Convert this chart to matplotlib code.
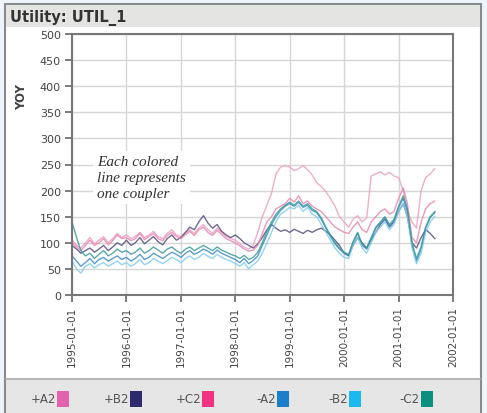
import matplotlib
matplotlib.use("Agg")
import matplotlib.pyplot as plt
from matplotlib.patches import Rectangle
import pandas as pd

# ---------------- data ----------------
dates = pd.date_range("1995-01-01", periods=81, freq="MS")

plus_A2 = [105, 95, 90, 100, 110, 98, 105, 112, 100, 108, 118, 110,
           115, 108, 112, 120, 110, 115, 122, 112, 108, 118, 125, 115,
           112, 120, 125, 118, 128, 135, 125, 118, 128, 120, 112, 108,
           105, 98, 92, 88, 95, 120, 150, 172, 195, 232, 245, 248,
           245, 238, 242, 248, 240, 230, 215, 208, 198, 185, 170, 150,
           140, 130, 145, 152, 140, 148, 228, 232, 236, 230, 235, 228,
           225, 200, 160, 140, 128, 200, 225, 232, 242]
plus_B2 = [95, 88, 80, 85, 90, 82, 88, 95, 85, 92, 100, 95,
           105, 95, 100, 110, 98, 105, 112, 102, 96, 108, 115, 105,
           110, 120, 130, 125, 140, 152, 138, 128, 135, 122, 115, 110,
           115, 108, 100, 95, 90, 98, 110, 125, 135, 128, 122, 125,
           120, 126, 122, 118, 124, 120, 125, 128, 122, 115, 105, 95,
           80, 75, 95, 110, 100, 90, 105, 120, 135, 145, 130, 140,
           160, 175, 150, 100, 90, 110, 125, 118, 108]
plus_C2 = [100, 92, 85, 95, 105, 95, 100, 108, 96, 104, 115, 108,
           110, 104, 108, 118, 106, 112, 118, 108, 104, 114, 120, 112,
           108, 116, 122, 114, 125, 130, 120, 114, 124, 116, 108, 104,
           100, 94, 88, 84, 86, 95, 118, 140, 150, 165, 170, 175,
           185, 178, 190, 175, 180, 170, 165, 160, 150, 140, 130, 125,
           120, 118, 130, 140, 125, 120, 140, 150, 160, 165, 155, 160,
           185, 205, 175, 110, 100, 140, 165, 175, 180]
minus_A2 = [75, 65, 55, 62, 70, 60, 68, 72, 65, 70, 75, 68,
            72, 65, 70, 78, 68, 72, 80, 75, 70, 76, 82, 78,
            72, 80, 85, 78, 82, 88, 84, 78, 86, 80, 76, 72,
            68, 62, 70, 60, 66, 75, 95, 115, 135, 150, 162, 170,
            175, 170, 178, 168, 172, 162, 158, 145, 128, 112, 98, 88,
            80, 76, 100, 118, 95, 88, 108, 128, 138, 148, 132, 142,
            168, 185, 160, 95, 65, 88, 128, 148, 158]
minus_B2 = [65, 50, 42, 55, 60, 52, 58, 62, 55, 60, 65, 58,
            62, 55, 60, 68, 58, 62, 70, 65, 60, 66, 72, 68,
            62, 70, 75, 68, 72, 80, 74, 70, 78, 72, 68, 65,
            60, 55, 62, 50, 58, 65, 80, 100, 120, 140, 155, 160,
            168, 165, 172, 160, 168, 155, 150, 135, 120, 105, 90, 80,
            72, 70, 95, 110, 90, 80, 100, 120, 130, 140, 125, 135,
            160, 175, 150, 90, 60, 80, 120, 140, 150]
minus_C2 = [140, 110, 85, 75, 80, 70, 78, 85, 75, 80, 88, 82,
            85, 78, 82, 90, 80, 85, 92, 86, 80, 88, 92, 85,
            80, 88, 92, 85, 90, 95, 90, 85, 92, 86, 82, 78,
            75, 70, 76, 68, 72, 82, 100, 122, 140, 155, 165, 172,
            178, 172, 180, 170, 175, 165, 160, 148, 130, 115, 100, 90,
            82, 78, 102, 120, 98, 90, 110, 130, 140, 150, 135, 145,
            170, 190, 165, 100, 70, 92, 130, 150, 160]

series_names = ["+A2", "+B2", "+C2", "-A2", "-B2", "-C2"]
series_values = [plus_A2, plus_B2, plus_C2, minus_A2, minus_B2, minus_C2]
line_colors = ["#eaa0c4", "#55507f", "#e887b0", "#3f8cc6", "#7fcdf0", "#3c9c9a"]
swatch_colors = ["#e262ae", "#2e2a6c", "#f03282", "#1a7ec8", "#1cb8f0", "#0a9080"]

y_ticks = [0, 50, 100, 150, 200, 250, 300, 350, 400, 450, 500]
x_tick_years = [1995, 1996, 1997, 1998, 1999, 2000, 2001, 2002]

# ---------------- figure ----------------
W, H = 487, 414
fig = plt.figure(figsize=(W / 100, H / 100), dpi=100)
fig.patch.set_facecolor("#eef5fb")

def px(x, y):
    return x / W, 1 - y / H

# frame
frame = Rectangle(px(5, 414), (481 - 5) / W, (414 - 5) / H, transform=fig.transFigure,
                  facecolor="white", edgecolor="#8a8a8a", lw=1.5, zorder=-2)
fig.patches.append(frame)
# title bar
tb = Rectangle(px(6, 28), (480 - 6) / W, (28 - 6) / H, transform=fig.transFigure,
               facecolor="#e4e4e2", edgecolor="none", zorder=-1)
fig.patches.append(tb)
fig.text(*px(10, 18), "Utility: UTIL_1", fontsize=10.5, fontweight="bold",
         color="#333333", va="center", ha="left")
# legend band
lb = Rectangle(px(6, 414), (480 - 6) / W, (414 - 381) / H, transform=fig.transFigure,
               facecolor="#e6e6e6", edgecolor="none", zorder=-1)
fig.patches.append(lb)
fig.add_artist(plt.Line2D([6 / W, 480 / W], [1 - 380 / H, 1 - 380 / H],
                          transform=fig.transFigure, color="#a8a8a8", lw=1.2))

ax = fig.add_axes([72 / W, 1 - 296 / H, (453 - 72) / W, (296 - 35) / H])
ax.set_zorder(5)
ax.set_facecolor("white")
for vals, c in zip(series_values, line_colors):
    ax.plot(dates, vals, color=c, lw=1.0, alpha=0.85)

ax.set_ylim(0, 500)
ax.set_yticks(y_ticks)
ax.set_yticklabels([str(v) for v in y_ticks])
xt = [pd.Timestamp(f"{y}-01-01") for y in x_tick_years]
ax.set_xlim(xt[0], xt[-1])
ax.set_xticks(xt)
ax.set_xticklabels([t.strftime("%Y-%m-%d") for t in xt], rotation=90, va="top", ha="center")
ax.grid(True, color="#d6d6d6", lw=1.0)
ax.set_axisbelow(True)
ax.tick_params(axis="both", direction="out", length=5, width=1.2, colors="#666666",
               labelcolor="#444444", labelsize=7.5, pad=3)
ax.tick_params(axis="y", labelsize=8)
for s in ax.spines.values():
    s.set_color("#777777")
    s.set_linewidth(1.5)

fig.text(*px(22, 97), "YOY", rotation=90, fontsize=8.5, fontweight="bold",
         color="#444444", va="center", ha="center")

# annotation
ax.text(0.065, 0.535, "Each colored\nline represents\none coupler", transform=ax.transAxes,
        fontsize=11, fontstyle="italic", family="Liberation Serif", color="#333333",
        va="top", ha="left", linespacing=1.3,
        bbox=dict(facecolor="white", edgecolor="none", pad=3))

# legend
sw_left = [57, 130, 202, 277, 349, 421]
for name, c, xl in zip(series_names, swatch_colors, sw_left):
    fig.patches.append(Rectangle(px(xl, 408), 12 / W, 16 / H, transform=fig.transFigure,
                                 facecolor=c, edgecolor="none", zorder=2))
    fig.text(*px(xl - 1, 400), name, fontsize=8.5, color="#555555", ha="right", va="center")

fig.savefig("out.png", dpi=100, facecolor=fig.get_facecolor())
